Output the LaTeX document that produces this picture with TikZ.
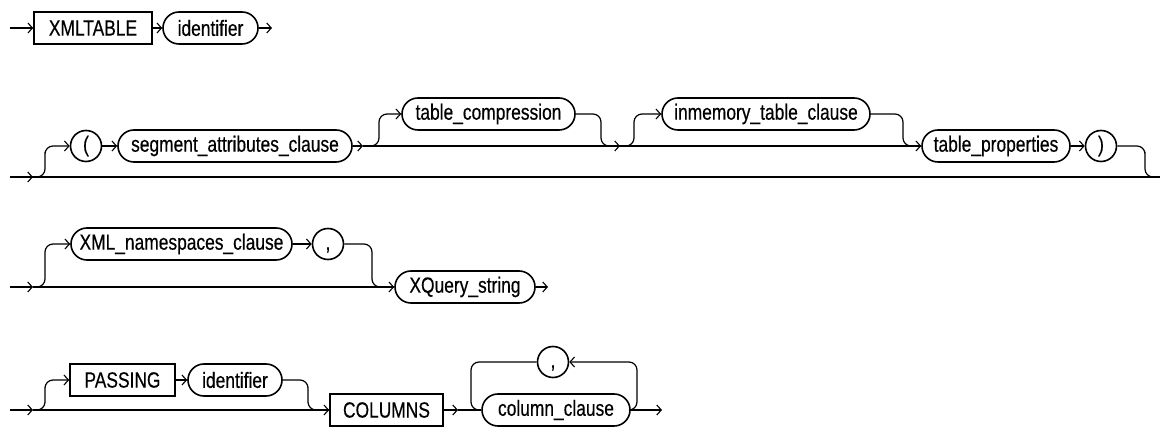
\documentclass[tikz,border=0pt]{standalone}
\usepackage{fontspec}
\setmainfont{Liberation Sans}[FakeStretch=0.79,FakeBold=0.4]
\usetikzlibrary{arrows.meta}
\begin{document}
\begin{tikzpicture}[x=1pt,y=-1pt,
  ln/.style={line width=1.2pt},
  arr/.style={line width=1.2pt,-{Straight Barb[length=4.5pt,width=10pt,line width=1.1pt]}},
  rc/.style={rounded corners=8pt},
  kw/.style={draw,line width=1.6pt,minimum height=32pt,inner sep=0pt,font=\fontsize{22}{26}\selectfont},
  nt/.style={kw,rounded corners=16pt},
  ci/.style={draw,circle,line width=1.6pt,minimum size=31pt,inner sep=0pt,font=\fontsize{22}{26}\selectfont}]
\useasboundingbox (0,0) rectangle (1160,427);
% ---------- row 1
\coordinate (r1s) at (10,28);
\node[kw,minimum width=118pt] (xt) at (93,28) {XMLTABLE};
\node[nt,minimum width=95pt] (id1) at (210.5,28) {identifier};
\coordinate (r1e) at (272,28);
\draw[arr] (r1s) -- (xt.west);
\draw[arr] (xt.east) -- (id1.west);
\draw[arr] (id1.east) -- (r1e);
% ---------- row 2
\coordinate (r2s) at (10,177);
\coordinate (r2a) at (33,177);
\coordinate (r2e) at (1160,177);
\node[ci] (lp) at (86,146) {(};
\node[nt,minimum width=234pt] (seg) at (235,146) {segment\_attributes\_clause};
\node[nt,minimum width=173pt] (tc) at (488.5,114) {table\_compression};
\node[nt,minimum width=208pt] (im) at (766,114) {inmemory\_table\_clause};
\node[nt,minimum width=148pt] (tp) at (996,146) {table\_properties};
\node[ci] (rp) at (1101,146) {)};
\coordinate (s1) at (363,146);
\coordinate (j1) at (620,146);
\draw[ln] (r2s) -- (r2e);
\draw[arr] (r2s) -- (r2a);
\draw[arr,rc] (r2a) -| (45,160) |- (lp.west);
\draw[arr] (lp.east) -- (seg.west);
\draw[arr] (seg.east) -- (s1);
\draw[arr] (s1) -- (tp.west);
\draw[arr,rc] (s1) -| (379,130) |- (tc.west);
\draw[arr,rc] (tc.east) -| (601,130) |- (j1);
\draw[arr,rc] (j1) -| (634,130) |- (im.west);
\draw[ln,rc] (im.east) -| (903,130) |- (tp.west);
\draw[arr] (tp.east) -- (rp.west);
\draw[ln,rc] (rp.east) -| (1145,160) |- (r2e);
% ---------- row 3
\coordinate (r3s) at (10,287);
\coordinate (r3a) at (33,287);
\node[nt,minimum width=221pt] (xns) at (181.5,244) {XML\_namespaces\_clause};
\node[ci] (cm1) at (328,244) {\vphantom{(},};
\node[nt,minimum width=140pt] (xq) at (465,287) {XQuery\_string};
\coordinate (r3e) at (548,287);
\draw[arr] (r3s) -- (r3a);
\draw[arr] (r3a) -- (xq.west);
\draw[arr,rc] (r3a) -| (45,265) |- (xns.west);
\draw[arr] (xns.east) -- (cm1.west);
\draw[ln,rc] (cm1.east) -| (372,265) |- (xq.west);
\draw[arr] (xq.east) -- (r3e);
% ---------- row 4
\coordinate (r4s) at (10,410);
\coordinate (r4a) at (33,410);
\node[kw,minimum width=105pt] (pas) at (122.5,380) {PASSING};
\node[nt,minimum width=94pt] (id2) at (235,380) {identifier};
\node[kw,minimum width=113pt] (col) at (386.5,410) {COLUMNS};
\node[nt,minimum width=148pt] (cc) at (556,410) {column\_clause};
\node[ci] (cm2) at (553,362) {\vphantom{(},};
\coordinate (c1) at (458,410);
\coordinate (r4e) at (662,410);
\draw[arr] (r4s) -- (r4a);
\draw[arr] (r4a) -- (col.west);
\draw[arr,rc] (r4a) -| (45,395) |- (pas.west);
\draw[arr] (pas.east) -- (id2.west);
\draw[ln,rc] (id2.east) -| (308,395) |- (col.west);
\draw[arr] (col.east) -- (c1);
\draw[ln] (c1) -- (cc.west);
\draw[arr] (cc.east) -- (r4e);
\draw[arr,rc] (cc.east) -| (637,386) |- (cm2.east);
\draw[ln,rc] (cm2.west) -| (471,386) |- (cc.west);
\end{tikzpicture}
\end{document}
